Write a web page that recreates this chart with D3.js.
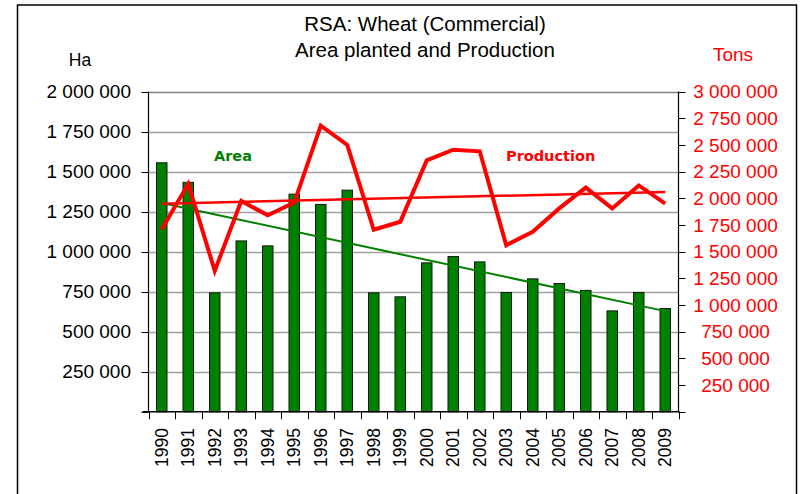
<!DOCTYPE html>
<html>
<head>
<meta charset="utf-8">
<script src="https://cdn.jsdelivr.net/npm/d3@7"></script>
<style>
  html, body { margin: 0; padding: 0; background: #fff; }
  svg { display: block; }
</style>
</head>
<body>
<svg id="chart" width="801" height="494"></svg>
<script>
// ---- data ----
const years = ["1990","1991","1992","1993","1994","1995","1996","1997","1998","1999",
               "2000","2001","2002","2003","2004","2005","2006","2007","2008","2009"];
const areaHa = [1555000,1433000,743000,1067000,1036000,1359000,1295000,1384000,743000,718000,
                930000,970000,936000,745000,830000,801000,758000,630000,745000,645000];
const productionTons = [1710000,2135000,1320000,1975000,1840000,1960000,2680000,2500000,1705000,1780000,
                        2355000,2455000,2440000,1560000,1686000,1905000,2100000,1905000,2120000,1950000];
const leftTicks = [250000,500000,750000,1000000,1250000,1500000,1750000,2000000];
const rightTicks = [250000,500000,750000,1000000,1250000,1500000,1750000,2000000,2250000,2500000,2750000,3000000];
const titleLines = ["RSA: Wheat (Commercial)", "Area planted and Production"];

// ---- layout ----
const svg = d3.select("#chart");
const L = 148.5, R = 678.5, T = 91.5, B = 411.8;
const sansFont = "'Liberation Sans', Arial, sans-serif";
const boldFont = "'DejaVu Sans', Verdana, sans-serif";

svg.append("rect").attr("x",0).attr("y",0).attr("width",801).attr("height",494).attr("fill","#fff");
svg.append("rect").attr("x",17.5).attr("y",5).attr("width",779).attr("height",520)
   .attr("fill","none").attr("stroke","#000").attr("stroke-width",1.5);

const x = d3.scaleBand().domain(years).range([L, R]).padding(0);
const yL = d3.scaleLinear().domain([0, 2000000]).range([B, T]);
const yR = d3.scaleLinear().domain([0, 3000000]).range([B, T]);
const fmt = v => d3.format(",")(v).replace(/,/g, " ");

// gridlines
svg.append("g").selectAll("line").data(leftTicks).join("line")
  .attr("x1", L).attr("x2", R)
  .attr("y1", d => Math.round(yL(d)) + 0.5).attr("y2", d => Math.round(yL(d)) + 0.5)
  .attr("stroke", d => d === 2000000 ? "#808080" : "#a0a0a0").attr("stroke-width", 1.4);

// bars
const bw = 10.5;
svg.append("g").selectAll("rect").data(areaHa).join("rect")
  .attr("x", (d,i) => x(years[i]) + x.bandwidth()/2 - bw/2)
  .attr("y", d => yL(d))
  .attr("width", bw)
  .attr("height", d => B - yL(d))
  .attr("fill", "#008000").attr("stroke", "#0d1a0d").attr("stroke-width", 1);

// trendline helper (least squares over category index)
function trend(vals) {
  const n = vals.length, xs = d3.range(n);
  const mx = d3.mean(xs), my = d3.mean(vals);
  const b = d3.sum(xs, i => (i - mx) * (vals[i] - my)) / d3.sum(xs, i => (i - mx) ** 2);
  const a = my - b * mx;
  return [[0, a], [n - 1, a + b * (n - 1)]];
}
const cx = i => x(years[i]) + x.bandwidth()/2;

// green trendline
const gt = trend(areaHa);
svg.append("line")
  .attr("x1", cx(gt[0][0])).attr("y1", yL(gt[0][1]))
  .attr("x2", cx(gt[1][0])).attr("y2", yL(gt[1][1]))
  .attr("stroke", "#008000").attr("stroke-width", 2);

// production line
const line = d3.line().x((d,i) => cx(i)).y(d => yR(d));
svg.append("path").datum(productionTons).attr("d", line)
  .attr("fill", "none").attr("stroke", "#ff0000").attr("stroke-width", 4)
  .attr("stroke-linejoin", "miter").attr("stroke-miterlimit", 10);

// red trendline
const rt = trend(productionTons);
svg.append("line")
  .attr("x1", cx(rt[0][0])).attr("y1", yR(rt[0][1]))
  .attr("x2", cx(rt[1][0])).attr("y2", yR(rt[1][1]))
  .attr("stroke", "#ff0000").attr("stroke-width", 2.5);

// left axis
const axL = svg.append("g");
axL.append("line").attr("x1", L).attr("x2", L).attr("y1", T).attr("y2", B).attr("stroke", "#000").attr("stroke-width", 1.2);
axL.selectAll("line.t").data([0, ...leftTicks]).join("line").attr("class","t")
  .attr("x1", L - 7).attr("x2", L).attr("y1", d => Math.round(yL(d)) + 0.5).attr("y2", d => Math.round(yL(d)) + 0.5)
  .attr("stroke", "#000").attr("stroke-width", 1);
axL.selectAll("text").data(leftTicks).join("text")
  .attr("x", 131).attr("y", d => yL(d)).attr("dy", "0.35em")
  .attr("text-anchor", "end").attr("font-family", sansFont).attr("font-size", 19).attr("fill", "#000")
  .text(fmt);

// right axis
const axR = svg.append("g");
axR.append("line").attr("x1", R).attr("x2", R).attr("y1", T).attr("y2", B).attr("stroke", "#000").attr("stroke-width", 1.2);
axR.selectAll("line.t").data([0, ...rightTicks]).join("line").attr("class","t")
  .attr("x1", R).attr("x2", R + 7).attr("y1", d => Math.round(yR(d)) + 0.5).attr("y2", d => Math.round(yR(d)) + 0.5)
  .attr("stroke", "#000").attr("stroke-width", 1);
axR.selectAll("text").data(rightTicks).join("text")
  .attr("x", 735.5).attr("y", d => yR(d)).attr("dy", "0.35em")
  .attr("text-anchor", "middle").attr("font-family", sansFont).attr("font-size", 19).attr("fill", "#ff0000")
  .text(fmt);

// x axis
const axB = svg.append("g");
axB.append("line").attr("x1", L - 6).attr("x2", R + 1).attr("y1", B).attr("y2", B).attr("stroke", "#000").attr("stroke-width", 1.4);
const bounds = years.map(y => x(y)).concat([R]);
axB.selectAll("line.t").data(bounds).join("line").attr("class","t")
  .attr("x1", d => Math.round(d) + 0.5).attr("x2", d => Math.round(d) + 0.5)
  .attr("y1", B).attr("y2", B + 7.5).attr("stroke", "#000").attr("stroke-width", 1);
axB.selectAll("text").data(years).join("text")
  .attr("transform", d => `translate(${x(d) + x.bandwidth()/2},428) rotate(-90)`)
  .attr("dy", "0.35em").attr("text-anchor", "end")
  .attr("font-family", sansFont).attr("font-size", 17.5).attr("fill", "#000")
  .text(d => d);

// titles
svg.selectAll("text.title").data(titleLines).join("text").attr("class","title")
  .attr("x", 425).attr("y", (d,i) => 31 + i * 25.5)
  .attr("text-anchor", "middle").attr("font-family", sansFont).attr("font-size", 20.5).attr("fill", "#000")
  .text(d => d);

svg.append("text").attr("x", 80).attr("y", 66).attr("text-anchor", "middle")
  .attr("font-family", sansFont).attr("font-size", 17.5).attr("fill", "#000").text("Ha");
svg.append("text").attr("x", 733).attr("y", 61).attr("text-anchor", "middle")
  .attr("font-family", sansFont).attr("font-size", 19).attr("fill", "#ff0000").text("Tons");

// series labels
svg.append("text").attr("x", 214).attr("y", 161).attr("font-family", boldFont).attr("font-weight", "bold")
  .attr("font-size", 14.5).attr("fill", "#008000").text("Area");
svg.append("text").attr("x", 506).attr("y", 161).attr("font-family", boldFont).attr("font-weight", "bold")
  .attr("font-size", 14.5).attr("fill", "#ff0000").text("Production");
</script>
</body>
</html>
